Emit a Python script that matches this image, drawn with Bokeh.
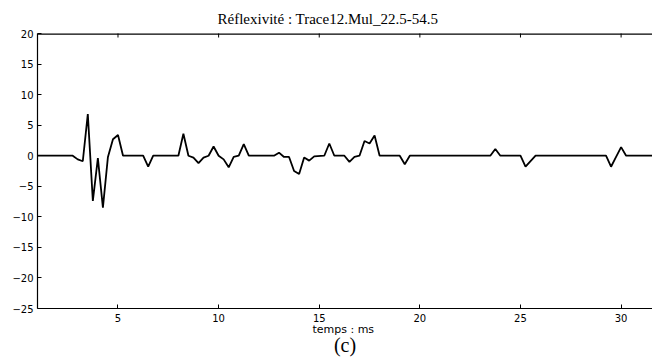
import math
from bokeh.plotting import figure
from bokeh.models import Range1d, LinearAxis, FixedTicker, Title, Span
from bokeh.embed import file_html
from bokeh.resources import INLINE

# Reflectivity trace (time in ms, amplitude)
t_ms = [1.0, 2.75, 3.0, 3.25, 3.5, 3.75, 4.0, 4.25, 4.5, 4.75, 5.0, 5.25,
        6.25, 6.5, 6.75, 8.0, 8.25, 8.5, 8.75, 9.0, 9.25, 9.5, 9.75, 10.0,
        10.25, 10.5, 10.75, 11.0, 11.25, 11.5, 12.75, 13.0, 13.25, 13.5,
        13.75, 14.0, 14.25, 14.5, 14.75, 15.25, 15.5, 15.75, 16.25, 16.5,
        16.75, 17.0, 17.25, 17.5, 17.75, 18.0, 19.0, 19.25, 19.5, 23.5,
        23.75, 24.0, 25.0, 25.25, 25.5, 25.75, 29.25, 29.5, 29.75, 30.0,
        30.25, 31.6]
reflex = [0, 0, -0.6, -0.9, 6.8, -7.4, -0.4, -8.5, -0.2, 2.7, 3.4, 0,
          0, -1.8, 0, 0, 3.6, 0, -0.3, -1.2, -0.3, 0, 1.5, 0,
          -0.6, -1.9, -0.2, 0, 1.9, 0, 0, 0.5, -0.2, -0.2,
          -2.5, -3.0, -0.3, -0.8, -0.1, 0, 2.0, 0, 0, -1.0,
          -0.2, 0, 2.4, 2.0, 3.3, 0, 0, -1.4, 0, 0,
          1.1, 0, 0, -1.8, -0.9, 0, 0, -1.8, -0.2, 1.4,
          0, 0]

x_ticks = [5, 10, 15, 20, 25, 30]
y_ticks = [-25, -20, -15, -10, -5, 0, 5, 10, 15, 20]
y_top = 20

title_text = "Réflexivité : Trace12.Mul_22.5-54.5"
xlabel_text = "temps  : ms"
panel_text = "(c)"

p = figure(width=652, height=358, output_backend="svg", toolbar_location=None,
           x_range=Range1d(1.0, 31.56), y_range=Range1d(-25, y_top),
           x_axis_location=None, y_axis_location=None,
           min_border_left=37, min_border_right=0, min_border_top=33,
           min_border_bottom=49)
p.outline_line_color = None
p.xgrid.visible = False
p.ygrid.visible = False
p.background_fill_color = "white"
p.border_fill_color = "white"

def style(ax):
    ax.major_tick_in = 4
    ax.major_tick_out = 0
    ax.minor_tick_line_color = None
    ax.axis_line_color = "black"
    ax.axis_line_width = 1.2
    ax.major_tick_line_color = "black"
    ax.major_label_text_font = "DejaVu Sans"
    ax.major_label_text_font_size = "10px"
    ax.major_label_text_color = "black"
    ax.major_label_standoff = 4

left = LinearAxis(ticker=FixedTicker(ticks=y_ticks))
style(left)
p.add_layout(left, "left")

bottom = LinearAxis(ticker=FixedTicker(ticks=x_ticks), axis_label=xlabel_text)
style(bottom)
bottom.major_label_standoff = 5
bottom.axis_label_text_font = "DejaVu Sans"
bottom.axis_label_text_font_size = "11px"
bottom.axis_label_text_font_style = "normal"
bottom.axis_label_text_color = "black"
bottom.axis_label_standoff = -2
p.add_layout(bottom, "below")

# second, bare axis below only carrying the panel letter
panel_axis = LinearAxis(ticker=FixedTicker(ticks=[]), axis_label=panel_text)
panel_axis.axis_line_color = None
panel_axis.major_tick_line_color = None
panel_axis.minor_tick_line_color = None
panel_axis.major_tick_in = 0
panel_axis.major_tick_out = 0
panel_axis.major_label_standoff = 0
panel_axis.axis_label_text_font = "Liberation Serif"
panel_axis.axis_label_text_font_size = "20px"
panel_axis.axis_label_text_font_style = "normal"
panel_axis.axis_label_text_color = "black"
panel_axis.axis_label_standoff = -5
p.add_layout(panel_axis, "below")

# top frame line and inward ticks
p.add_layout(Span(location=y_top, dimension="width", line_color="black",
                  line_width=2.4))
p.scatter(x_ticks, [y_top] * len(x_ticks), marker="dash", angle=math.pi / 2,
          size=8, line_color="black", line_width=1)

p.line(t_ms, reflex, line_color="black", line_width=1.8)

p.add_layout(Title(text=title_text, align="left", offset=180,
                   text_font="Liberation Serif", text_font_size="15px",
                   text_font_style="normal", text_color="black",
                   standoff=14), "above")

open("out.html", "w").write(file_html(p, INLINE))
